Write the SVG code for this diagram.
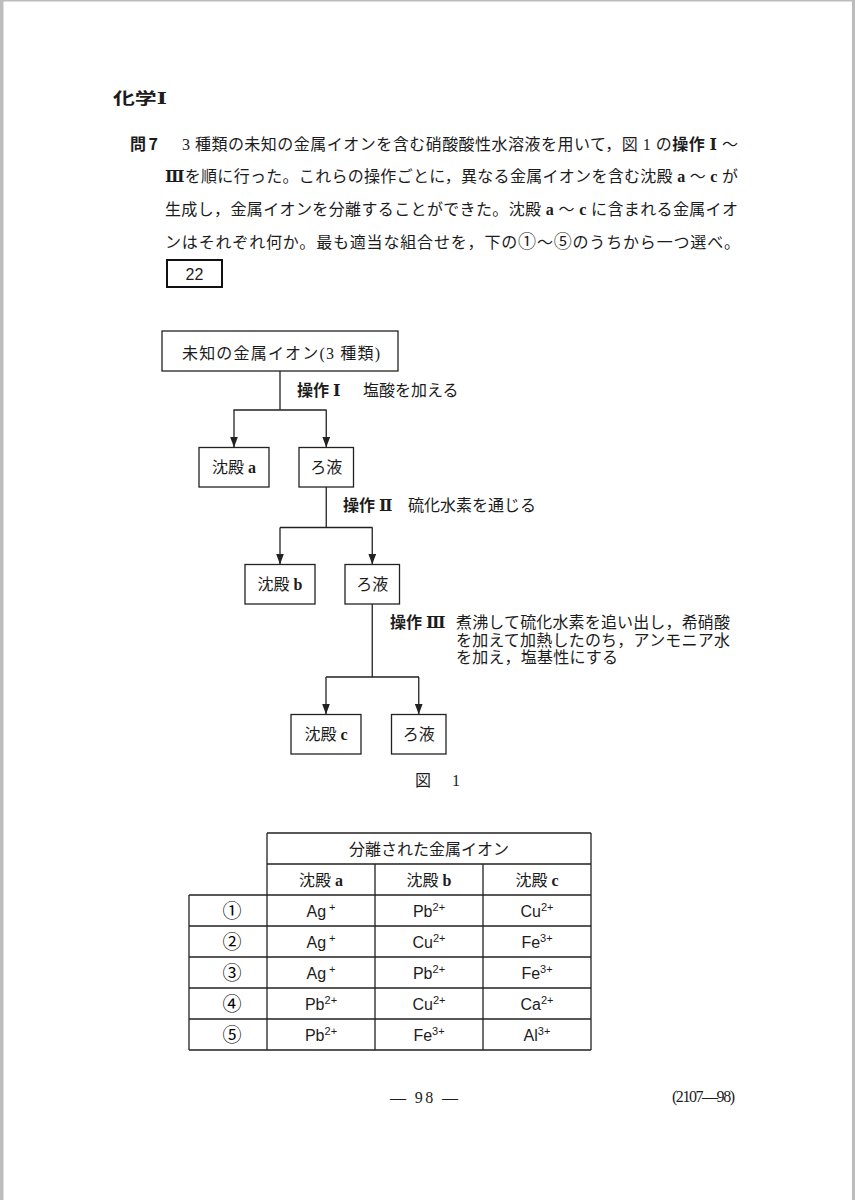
<svg xmlns="http://www.w3.org/2000/svg" width="855" height="1200" viewBox="0 0 855 1200">
<style>
.t{font-family:"Liberation Serif","Noto Sans CJK JP",serif;font-size:16px;fill:#1c1c1c}
.g{font-family:"Noto Sans CJK JP",sans-serif;font-weight:bold}
.b{font-weight:bold}
.rn{font-family:"Liberation Serif","DejaVu Serif","Noto Sans CJK JP",serif;font-weight:bold}
.s{font-family:"Liberation Sans","Noto Sans CJK JP",sans-serif;font-size:16px;fill:#1c1c1c}
.sup{font-size:11px}
.cn{font-family:"Noto Sans CJK JP",sans-serif;font-size:19px}
.box{fill:#fff;stroke:#222;stroke-width:1.3}
.ln{fill:none;stroke:#222;stroke-width:1.3}
.c{text-anchor:middle}
</style>
<defs>
<marker id="arr" markerUnits="userSpaceOnUse" viewBox="0 0 11 8" markerWidth="11" markerHeight="8" refX="11" refY="4" orient="auto">
<path d="M0,0 L11,4 L0,8 Z" fill="#222"/>
</marker>
</defs>
<rect width="855" height="1200" fill="#bdbdbd"/>
<rect x="3.5" y="1.5" width="848.5" height="1200" fill="#fff"/>

<g id="title">
<text class="t g" x="113" y="104" font-size="22" textLength="54" lengthAdjust="spacingAndGlyphs">化学<tspan class="rn">Ⅰ</tspan></text>
</g>

<g id="question">
<text class="t g" x="130" y="149.5" textLength="28" lengthAdjust="spacing">問 7</text>
<text class="t" x="182" y="149.5" textLength="556" lengthAdjust="spacing">3 種類の未知の金属イオンを含む硝酸酸性水溶液を用いて，図 1 の<tspan class="g">操作</tspan> <tspan class="rn">Ⅰ</tspan> ～</text>
<text class="t" x="165" y="182" textLength="573" lengthAdjust="spacing"><tspan class="rn">Ⅲ</tspan>を順に行った。これらの操作ごとに，異なる金属イオンを含む沈殿 <tspan class="b">a</tspan> ～ <tspan class="b">c</tspan> が</text>
<text class="t" x="165" y="215" textLength="573" lengthAdjust="spacing">生成し，金属イオンを分離することができた。沈殿 <tspan class="b">a</tspan> ～ <tspan class="b">c</tspan> に含まれる金属イオ</text>
<text class="t" x="165" y="247.5" textLength="575" lengthAdjust="spacing">ンはそれぞれ何か。最も適当な組合せを，下の<tspan font-size="18">①</tspan>～<tspan font-size="18">⑤</tspan>のうちから一つ選べ。</text>
</g>

<g id="answer-box">
<rect x="167" y="260" width="55" height="27" fill="none" stroke="#111" stroke-width="2"/>
<text class="s c" x="194.5" y="279.5">22</text>
</g>

<g id="connectors">
<path class="ln" d="M280,371 V410 M233.5,410 H326.5"/>
<path class="ln" d="M234,410 V447.5" marker-end="url(#arr)"/>
<path class="ln" d="M326.25,410 V447.5" marker-end="url(#arr)"/>
<path class="ln" d="M326.25,487 V527.5 M280,527.5 H372.5"/>
<path class="ln" d="M280,527.5 V564.5" marker-end="url(#arr)"/>
<path class="ln" d="M372.25,527.5 V564.5" marker-end="url(#arr)"/>
<path class="ln" d="M372.25,604 V677 M326,677 H419"/>
<path class="ln" d="M326,677 V714.5" marker-end="url(#arr)"/>
<path class="ln" d="M418.75,677 V714.5" marker-end="url(#arr)"/>
</g>

<g id="op1">
<text class="t" x="297" y="396"><tspan class="g">操作</tspan> <tspan class="rn">Ⅰ</tspan></text>
<text class="t" x="363" y="396">塩酸を加える</text>
</g>
<g id="op2">
<text class="t" x="343" y="511"><tspan class="g">操作</tspan> <tspan class="rn">Ⅱ</tspan></text>
<text class="t" x="408" y="511">硫化水素を通じる</text>
</g>
<g id="op3">
<text class="t" x="390" y="628"><tspan class="g">操作</tspan> <tspan class="rn">Ⅲ</tspan></text>
<text class="t" x="456" y="628" textLength="274" lengthAdjust="spacing">煮沸して硫化水素を追い出し，希硝酸</text>
<text class="t" x="456" y="645.5" textLength="274" lengthAdjust="spacing">を加えて加熱したのち，アンモニア水</text>
<text class="t" x="456" y="663" textLength="162" lengthAdjust="spacing">を加え，塩基性にする</text>
</g>

<g id="node-start">
<rect class="box" x="162" y="331" width="236" height="40"/>
<text class="t" x="182" y="359" textLength="198" lengthAdjust="spacing">未知の金属イオン(3 種類)</text>
</g>
<g id="node-ppt-a">
<rect class="box" x="199" y="447.5" width="70" height="39.5"/>
<text class="t c" x="234" y="473.3">沈殿 <tspan class="b">a</tspan></text>
</g>
<g id="node-filtrate-1">
<rect class="box" x="299" y="447.5" width="54.5" height="39.5"/>
<text class="t c" x="326.25" y="473.3">ろ液</text>
</g>
<g id="node-ppt-b">
<rect class="box" x="245" y="564.5" width="70" height="39.5"/>
<text class="t c" x="280" y="590.3">沈殿 <tspan class="b">b</tspan></text>
</g>
<g id="node-filtrate-2">
<rect class="box" x="345" y="564.5" width="54.5" height="39.5"/>
<text class="t c" x="372.25" y="590.3">ろ液</text>
</g>
<g id="node-ppt-c">
<rect class="box" x="291" y="714.5" width="70" height="39.5"/>
<text class="t c" x="326" y="740.3">沈殿 <tspan class="b">c</tspan></text>
</g>
<g id="node-filtrate-3">
<rect class="box" x="391.5" y="714.5" width="54.5" height="39.5"/>
<text class="t c" x="418.75" y="740.3">ろ液</text>
</g>

<g id="fig-caption">
<text class="t" x="415" y="786">図</text>
<text class="t" x="452" y="786">1</text>
</g>

<g id="table">
<path class="ln" d="M267,833 H591 M267,864 H591 M189,895 H591 M189,926 H591 M189,957 H591 M189,988 H591 M189,1019 H591 M189,1050 H591 M267,833 V1050 M591,833 V1050 M189,895 V1050 M375,864 V1050 M483,864 V1050"/>
<text class="t c" x="429" y="854.5" font-size="15">分離された金属イオン</text>
<text class="t c" x="321" y="885.5" font-size="15">沈殿 <tspan class="b">a</tspan></text>
<text class="t c" x="429" y="885.5" font-size="15">沈殿 <tspan class="b">b</tspan></text>
<text class="t c" x="537" y="885.5" font-size="15">沈殿 <tspan class="b">c</tspan></text>
<text class="cn c" x="232" y="917.5">①</text>
<text class="cn c" x="232" y="948.5">②</text>
<text class="cn c" x="232" y="979.5">③</text>
<text class="cn c" x="232" y="1010.5">④</text>
<text class="cn c" x="232" y="1041.5">⑤</text>
<text class="s c" x="321" y="916.5">Ag<tspan class="sup" dy="-6"> +</tspan></text>
<text class="s c" x="429" y="916.5">Pb<tspan class="sup" dy="-6">2+</tspan></text>
<text class="s c" x="537" y="916.5">Cu<tspan class="sup" dy="-6">2+</tspan></text>
<text class="s c" x="321" y="947.5">Ag<tspan class="sup" dy="-6"> +</tspan></text>
<text class="s c" x="429" y="947.5">Cu<tspan class="sup" dy="-6">2+</tspan></text>
<text class="s c" x="537" y="947.5">Fe<tspan class="sup" dy="-6">3+</tspan></text>
<text class="s c" x="321" y="978.5">Ag<tspan class="sup" dy="-6"> +</tspan></text>
<text class="s c" x="429" y="978.5">Pb<tspan class="sup" dy="-6">2+</tspan></text>
<text class="s c" x="537" y="978.5">Fe<tspan class="sup" dy="-6">3+</tspan></text>
<text class="s c" x="321" y="1009.5">Pb<tspan class="sup" dy="-6">2+</tspan></text>
<text class="s c" x="429" y="1009.5">Cu<tspan class="sup" dy="-6">2+</tspan></text>
<text class="s c" x="537" y="1009.5">Ca<tspan class="sup" dy="-6">2+</tspan></text>
<text class="s c" x="321" y="1040.5">Pb<tspan class="sup" dy="-6">2+</tspan></text>
<text class="s c" x="429" y="1040.5">Fe<tspan class="sup" dy="-6">3+</tspan></text>
<text class="s c" x="537" y="1040.5">Al<tspan class="sup" dy="-6">3+</tspan></text>
</g>

<g id="footer">
<text class="t" x="390" y="1102.5" font-size="17" textLength="68" lengthAdjust="spacing">— 98 —</text>
<text class="t" x="672" y="1102" font-size="13" textLength="63" lengthAdjust="spacing">(2107—98)</text>
</g>
</svg>
